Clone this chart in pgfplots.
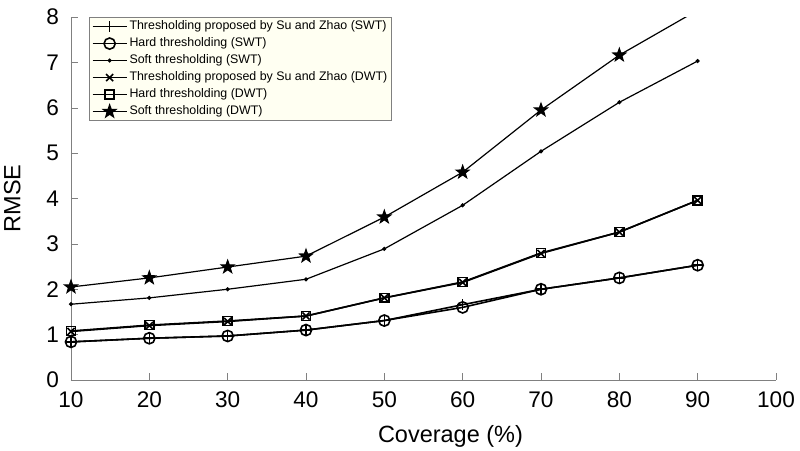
\documentclass[border=0pt]{standalone}
\usepackage{fontspec}
\setmainfont{Liberation Sans}
\usepackage{pgfplots}
\pgfplotsset{compat=1.18}

% filled five-pointed star (MATLAB 'p' marker)
\pgfdeclareplotmark{fstar}{%
  \pgfpathmoveto{\pgfpointpolar{90}{\pgfplotmarksize}}%
  \pgfpathlineto{\pgfpointpolar{126}{0.4\pgfplotmarksize}}%
  \pgfpathlineto{\pgfpointpolar{162}{\pgfplotmarksize}}%
  \pgfpathlineto{\pgfpointpolar{198}{0.4\pgfplotmarksize}}%
  \pgfpathlineto{\pgfpointpolar{234}{\pgfplotmarksize}}%
  \pgfpathlineto{\pgfpointpolar{270}{0.4\pgfplotmarksize}}%
  \pgfpathlineto{\pgfpointpolar{306}{\pgfplotmarksize}}%
  \pgfpathlineto{\pgfpointpolar{342}{0.4\pgfplotmarksize}}%
  \pgfpathlineto{\pgfpointpolar{18}{\pgfplotmarksize}}%
  \pgfpathlineto{\pgfpointpolar{54}{0.4\pgfplotmarksize}}%
  \pgfpathclose
  \pgfusepathqfillstroke}

\definecolor{legbg}{RGB}{255,255,242}

\begin{document}
\begin{tikzpicture}
  \useasboundingbox (-35.5pt,-35.5pt) rectangle (364.5pt,190pt);
  \begin{axis}[
    at={(0,0)}, anchor=south west,
    scale only axis,
    width=352.5pt, height=181.5pt,
    xmin=10, xmax=100, ymin=0, ymax=8,
    xtick={10,20,...,100}, ytick={0,1,...,8},
    axis x line=bottom, axis y line=left,
    axis line style={-, gray},
    tick align=inside,
    major tick length=3.5pt,
    tick style={gray},
    ticklabel style={font=\fontsize{11.3}{13}\selectfont},
    yticklabel style={xshift=-2.5pt},
    xticklabel style={yshift=-2.5pt},
    /pgf/number format/assume math mode=true,
    xlabel={Coverage (\%)}, ylabel={RMSE},
    label style={font=\fontsize{11.75}{14}\selectfont},
    xlabel style={yshift=-2pt, xshift=13.5pt},
    ylabel style={yshift=6pt},
    every axis plot/.append style={black, line width=0.8pt},
    legend cell align=left,
    legend style={at={(0.0255,1)}, anchor=north west, draw=gray, fill=legbg,
      font=\fontsize{6.2}{7}\selectfont, row sep=1.7pt, inner sep=1.2pt,
      nodes={inner ysep=0.4pt, inner xsep=1pt}},
    clip=true,
  ]
    \addplot[mark=+, mark size=2.8pt] coordinates {
      (10,0.84) (20,0.92) (30,0.97) (40,1.10) (50,1.31) (60,1.66) (70,2.00) (80,2.25) (90,2.53)};
    \addplot[mark=o, mark size=2.8pt] coordinates {
      (10,0.84) (20,0.92) (30,0.97) (40,1.10) (50,1.31) (60,1.60) (70,2.00) (80,2.25) (90,2.53)};
    \addplot[mark=*, mark size=0.7pt, line width=0.6pt] coordinates {
      (10,1.67) (20,1.81) (30,2.00) (40,2.22) (50,2.89) (60,3.85) (70,5.04) (80,6.12) (90,7.03)};
    \addplot[mark=x, mark size=2.5pt] coordinates {
      (10,1.07) (20,1.20) (30,1.29) (40,1.41) (50,1.81) (60,2.15) (70,2.79) (80,3.26) (90,3.96)};
    \addplot[mark=square, mark size=2.2pt] coordinates {
      (10,1.08) (20,1.21) (30,1.30) (40,1.41) (50,1.81) (60,2.16) (70,2.80) (80,3.26) (90,3.96)};
    \addplot[mark=fstar, mark size=3.3pt, line width=0.6pt] coordinates {
      (10,2.05) (20,2.25) (30,2.49) (40,2.73) (50,3.59) (60,4.58) (70,5.95) (80,7.16) (90,8.15)};
    \legend{Thresholding proposed by Su and Zhao (SWT), Hard thresholding (SWT),
      Soft thresholding (SWT), Thresholding proposed by Su and Zhao (DWT),
      Hard thresholding (DWT), Soft thresholding (DWT)}
  \end{axis}
\end{tikzpicture}
\end{document}
